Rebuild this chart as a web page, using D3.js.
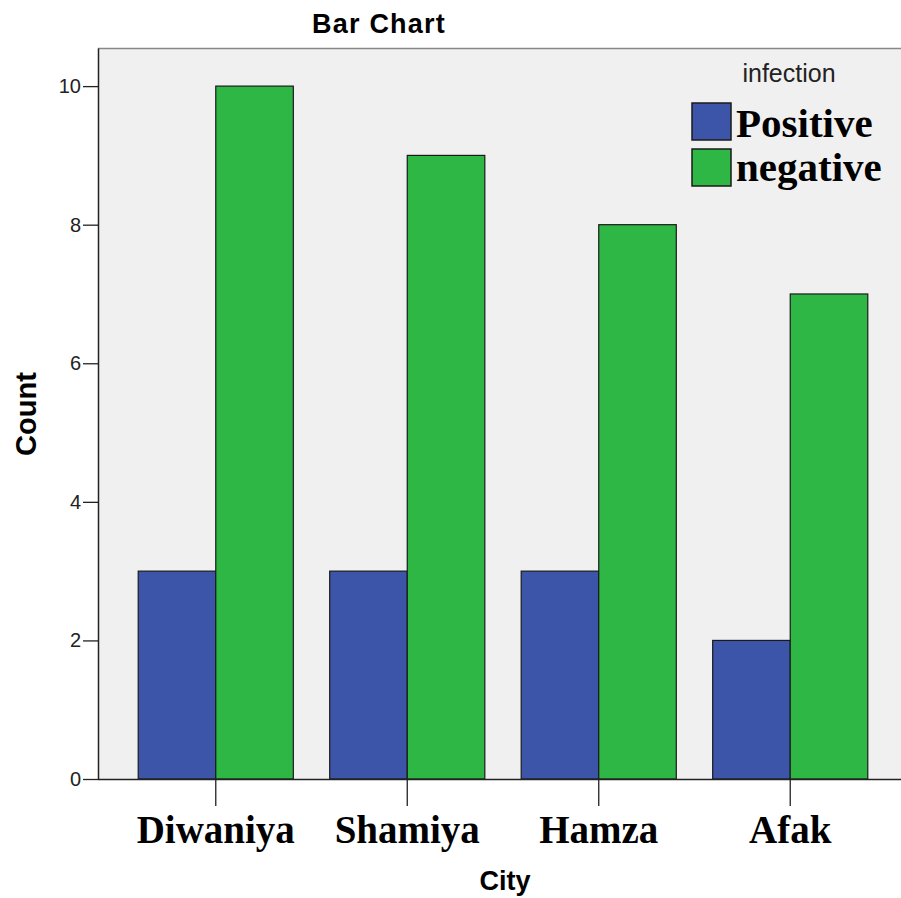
<!DOCTYPE html>
<html><head><meta charset="utf-8">
<script src="https://cdn.jsdelivr.net/npm/d3@7/dist/d3.min.js"></script>
<style>body{margin:0;background:#fff}</style>
</head><body>
<svg id="c" width="901" height="898"></svg>
<script>
const cities = ["Diwaniya", "Shamiya", "Hamza", "Afak"];
const seriesNames = ["Positive", "negative"];
const positiveCounts = [3, 3, 3, 2];
const negativeCounts = [10, 9, 8, 7];
const yTicks = [0, 2, 4, 6, 8, 10];
const colors = ["#3c55a8", "#2fb746"];

const svg = d3.select("#c");
const pLeft = 98, pRight = 908, pTop = 48, pBottom = 779;
const sans = "Liberation Sans, Arial, sans-serif";
const serif = "Liberation Serif, Times New Roman, serif";

const x = d3.scaleBand().domain(cities).range([pLeft, pRight]).paddingInner(0.19).paddingOuter(0.21);
const xs = d3.scaleBand().domain(seriesNames).range([0, x.bandwidth()]);
const y = d3.scaleLinear().domain([0, 10.55]).range([pBottom, pTop]);

svg.append("rect").attr("x", pLeft).attr("y", pTop).attr("width", 901 - pLeft).attr("height", pBottom - pTop).attr("fill", "#f0f0f0");
svg.append("line").attr("x1", pLeft).attr("x2", 901).attr("y1", pTop + 0.5).attr("y2", pTop + 0.5).attr("stroke", "#888").attr("stroke-width", 1.5);

const data = cities.map((c, i) => ({city: c, vals: [positiveCounts[i], negativeCounts[i]]}));
const g = svg.append("g");
data.forEach(d => {
  d.vals.forEach((v, j) => {
    g.append("rect")
      .attr("x", x(d.city) + xs(seriesNames[j]))
      .attr("y", y(v))
      .attr("width", xs.bandwidth())
      .attr("height", y(0) - y(v))
      .attr("fill", colors[j])
      .attr("stroke", "#1a1a1a").attr("stroke-width", 1.2);
  });
});

// y axis
const ya = svg.append("g").attr("transform", `translate(${pLeft},0)`)
  .call(d3.axisLeft(y).tickValues(yTicks).tickSize(15).tickSizeOuter(0).tickPadding(2).tickFormat(d3.format("d")));
ya.select(".domain").attr("stroke", "#222").attr("stroke-width", 1.5);
ya.selectAll(".tick line").attr("stroke", "#222").attr("stroke-width", 1.3);
ya.selectAll("text").attr("font-family", sans).attr("font-size", 20).attr("fill", "#222");

// x axis
const xa = svg.append("g").attr("transform", `translate(0,${pBottom})`)
  .call(d3.axisBottom(x).tickSize(27).tickPadding(10).tickSizeOuter(0));
xa.select(".domain").attr("stroke", "#222").attr("stroke-width", 1.5).attr("d", `M${pLeft},0.5H901`);
xa.selectAll(".tick line").attr("stroke", "#222").attr("stroke-width", 1.3);
xa.selectAll("text").attr("font-family", serif).attr("font-weight", "bold").attr("font-size", 39).attr("fill", "#000")
  .attr("dy", null).attr("y", 64);

// titles
svg.append("text").attr("x", 379).attr("y", 33).attr("text-anchor", "middle")
  .attr("font-family", sans).attr("font-weight", "bold").attr("font-size", 27).attr("letter-spacing", 1.2).text("Bar Chart");
svg.append("text").attr("x", 505).attr("y", 890).attr("text-anchor", "middle")
  .attr("font-family", sans).attr("font-weight", "bold").attr("font-size", 27).text("City");
svg.append("text").attr("transform", "translate(36,414) rotate(-90)").attr("text-anchor", "middle")
  .attr("font-family", sans).attr("font-weight", "bold").attr("font-size", 29).text("Count");

// legend
svg.append("text").attr("x", 789).attr("y", 82).attr("text-anchor", "middle")
  .attr("font-family", sans).attr("font-size", 25).attr("fill", "#222").text("infection");
seriesNames.forEach((s, j) => {
  svg.append("rect").attr("x", 692).attr("y", 103 + j * 46).attr("width", 39).attr("height", 37)
    .attr("fill", colors[j]).attr("stroke", "#1a1a1a").attr("stroke-width", 1.5);
  svg.append("text").attr("x", 736).attr("y", 137 + j * 44)
    .attr("font-family", serif).attr("font-weight", "bold").attr("font-size", 41).text(s);
});
</script>
</body></html>
